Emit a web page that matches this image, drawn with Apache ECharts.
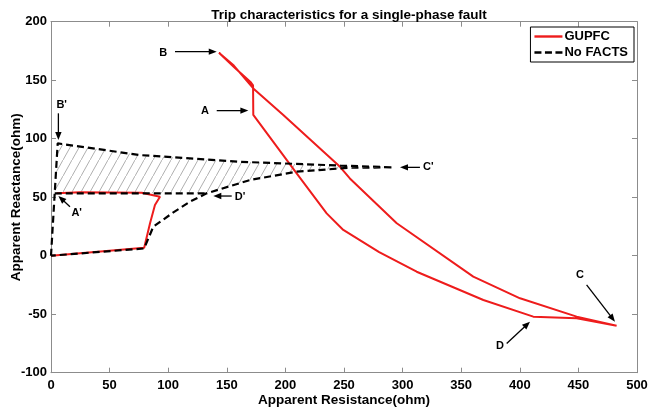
<!DOCTYPE html>
<html>
<head>
<meta charset="utf-8">
<script src="https://cdn.jsdelivr.net/npm/echarts@6/dist/echarts.min.js"></script>
<style>
html,body{margin:0;padding:0;background:#fff;}
#chart{width:649px;height:413px;}
</style>
</head>
<body>
<div id="chart"></div>
<script>
// ---- data ----
const titleText = 'Trip characteristics for a single-phase fault';
const xName = 'Apparent Resistance(ohm)';
const yName = 'Apparent Reactance(ohm)';
const seriesNames = ['GUPFC', 'No FACTS'];

// GUPFC trajectory (main loop through B, A, D, C)
const gupfcLoop = [
  [143.3,173.5],[157,160.5],[170,148.7],[172.4,145.5],[172.6,120.3],
  [209.6,70.4],[235.2,36.2],[249.4,22],[280,3],[312,-13.7],[368.9,-37.9],
  [411.5,-52.1],[448.5,-53.5],[482.6,-59.8],
  [448.5,-52.1],[400.2,-36.4],[360.3,-17.9],[295,27.7],[255,66],
  [246.6,76],[198.2,120.3],[172.6,143],[156,162.5],[143.3,173.5]
];
// GUPFC small loop near the origin
const gupfcLow = [
  [4.8,53.3],[24.7,54.2],[77.4,53.8],[93,50.4],[88.7,43.3],
  [84.5,27.7],[79.5,6.8],[0,0]
];
// No FACTS trajectory
const noFactsLoop = [
  [0,0],[5.7,96],[76,86],[161,80.3],[247,77],[292,75.5],
  [255,75.2],[209.6,71.8],[169.8,64.7],[132.8,53.3],[118.6,46.2],
  [104.4,37],[87.3,24.8],[79.5,6.2],[0,0]
];
const noFactsFlat = [[3.2,53.3],[132.8,53.3]];

// hatched region between the two No FACTS branches
const hatchRegion = [
  [5.7,96],[76,86],[161,80.3],[247,77],[292,75.5],
  [255,75.2],[209.6,71.8],[169.8,64.7],[132.8,53.3],[3.2,53.3]
];

// annotations: label, text position, arrow start, arrow end
const annLabels = ['B','A','C','D',"B'","A'","C'","D'"];
const annTextPos = [[95.8,173.5],[131.4,124],[451.4,-16.5],[383.1,-77],[9.1,129],[21.9,36.2],[322,76],[161.3,50.4]];
const annFrom = [[105.8,174.4],[141.4,124],[457,-25],[388.8,-75],[6.3,121.7],[16.2,41.9],[314.8,75.5],[154.2,51]];
const annTo   = [[141.4,174.4],[168.4,124],[481.2,-56.4],[408.7,-56.4],[6.3,98.9],[6.3,51],[297.8,75.5],[138.5,51]];

const xTicks = {min:0, max:500, interval:50};
const yTicks = {min:-100, max:200, interval:50};

// ---- hatch pattern ----
function makeHatch() {
  const c = document.createElement('canvas');
  c.width = 9; c.height = 16;
  const g = c.getContext('2d');
  g.strokeStyle = '#9a9a9a';
  g.lineWidth = 0.8;
  g.beginPath();
  g.moveTo(-1, 16 + 16/9); g.lineTo(10, -16/9);
  g.stroke();
  return c;
}
const hatchCanvas = makeHatch();

const FONT = '"Liberation Sans", Arial, sans-serif';
const chart = echarts.init(document.getElementById('chart'));

const axisCommon = {
  axisLine: {show: true, onZero: false, lineStyle: {color: '#8c8c8c', width: 1}},
  axisTick: {show: true, inside: true, length: 5, lineStyle: {color: '#8c8c8c'}},
  splitLine: {show: false}
};

const annData = annLabels.map((l, i) => [annTextPos[i][0], annTextPos[i][1], annFrom[i][0], annFrom[i][1], annTo[i][0], annTo[i][1], l]);

const solidIcon = 'path://M0,0h28v2.4h-28z';
const dashIcon = 'path://M0,0h7v2.4h-7z M10.5,0h7v2.4h-7z M21,0h7v2.4h-7z';

chart.setOption({
  animation: false,
  backgroundColor: '#fff',
  title: {
    text: titleText,
    left: 344, top: 3, textAlign: 'center',
    textStyle: {fontFamily: FONT, fontSize: 13.5, fontWeight: 'bold', color: '#000'}
  },
  legend: {
    data: [{name: seriesNames[0], icon: solidIcon}, {name: seriesNames[1], icon: dashIcon}],
    orient: 'vertical',
    right: 15, top: 27,
    borderColor: '#000', borderWidth: 1,
    padding: [3, 6, 3, 4],
    itemGap: 3, itemWidth: 28, itemHeight: 2.4,
    textStyle: {fontFamily: FONT, fontSize: 13, fontWeight: 'bold', color: '#000', padding:[0,0,0,-3]},
    backgroundColor: '#fff'
  },
  grid: {left: 51, right: 12, top: 21.7, bottom: 40.3, containLabel: false, outerBoundsMode: 'none'},
  xAxis: [
    Object.assign({type: 'value', position: 'bottom', min: xTicks.min, max: xTicks.max, interval: xTicks.interval,
      name: xName, nameLocation: 'middle', nameGap: 21, nameMoveOverlap: false,
      nameTextStyle: {fontFamily: FONT, fontSize: 13.5, fontWeight: 'bold', color: '#000'},
      axisLabel: {fontFamily: FONT, fontSize: 13, fontWeight: 'bold', color: '#000', margin: 6}}, axisCommon),
    Object.assign({type: 'value', position: 'top', min: xTicks.min, max: xTicks.max, interval: xTicks.interval,
      axisLabel: {show: false}}, axisCommon)
  ],
  yAxis: [
    Object.assign({type: 'value', position: 'left', min: yTicks.min, max: yTicks.max, interval: yTicks.interval,
      name: yName, nameLocation: 'middle', nameGap: 28, nameMoveOverlap: false,
      nameTextStyle: {fontFamily: FONT, fontSize: 13.5, fontWeight: 'bold', color: '#000'},
      axisLabel: {fontFamily: FONT, fontSize: 13, fontWeight: 'bold', color: '#000', margin: 4}}, axisCommon),
    Object.assign({type: 'value', position: 'right', min: yTicks.min, max: yTicks.max, interval: yTicks.interval,
      axisLabel: {show: false}}, axisCommon)
  ],
  series: [
    {
      name: 'hatch', type: 'custom', z: 1, silent: true,
      data: [[hatchRegion[0][0], hatchRegion[0][1]]],
      renderItem: function (params, api) {
        const pts = hatchRegion.map(p => api.coord(p));
        return {type: 'polygon', shape: {points: pts},
          style: {fill: {image: hatchCanvas, repeat: 'repeat'}, stroke: null}};
      }
    },
    {
      name: 'GUPFC', type: 'line', data: gupfcLoop, symbol: 'none', showSymbol: false, z: 3,
      lineStyle: {color: '#ee1c1c', width: 2}, itemStyle: {color: '#ee1c1c'}
    },
    {
      name: 'GUPFC', type: 'line', data: gupfcLow, symbol: 'none', showSymbol: false, z: 3,
      lineStyle: {color: '#ee1c1c', width: 2}, itemStyle: {color: '#ee1c1c'}
    },
    {
      name: 'No FACTS', type: 'line', data: noFactsLoop, symbol: 'none', showSymbol: false, z: 4,
      lineStyle: {color: '#000', width: 2.2, type: [7, 4]}, itemStyle: {color: '#000'}
    },
    {
      name: 'No FACTS', type: 'line', data: noFactsFlat, symbol: 'none', showSymbol: false, z: 4,
      lineStyle: {color: '#000', width: 2.2, type: [7, 4]}, itemStyle: {color: '#000'}
    },
    {
      name: 'annotations', type: 'custom', z: 5, silent: true,
      data: annData,
      encode: {x: 0, y: 1},
      renderItem: function (params, api) {
        const t = api.coord([api.value(0), api.value(1)]);
        const f = api.coord([api.value(2), api.value(3)]);
        const e = api.coord([api.value(4), api.value(5)]);
        const dx = e[0] - f[0], dy = e[1] - f[1];
        const len = Math.sqrt(dx*dx + dy*dy) || 1;
        const ux = dx/len, uy = dy/len;
        const hl = 8, hw = 3.2;
        const bx = e[0] - ux*hl, by = e[1] - uy*hl;
        const head = [[e[0], e[1]], [bx - uy*hw, by + ux*hw], [bx + uy*hw, by - ux*hw]];
        return {type: 'group', children: [
          {type: 'line', shape: {x1: f[0], y1: f[1], x2: bx + ux*1, y2: by + uy*1}, style: {stroke: '#000', lineWidth: 1.3}},
          {type: 'polygon', shape: {points: head}, style: {fill: '#000'}},
          {type: 'text', x: t[0], y: t[1], style: {text: annLabels[params.dataIndex], fill: '#000',
            font: 'bold 11px ' + FONT, align: 'center', verticalAlign: 'middle'}}
        ]};
      }
    }
  ]
});
</script>
</body>
</html>
